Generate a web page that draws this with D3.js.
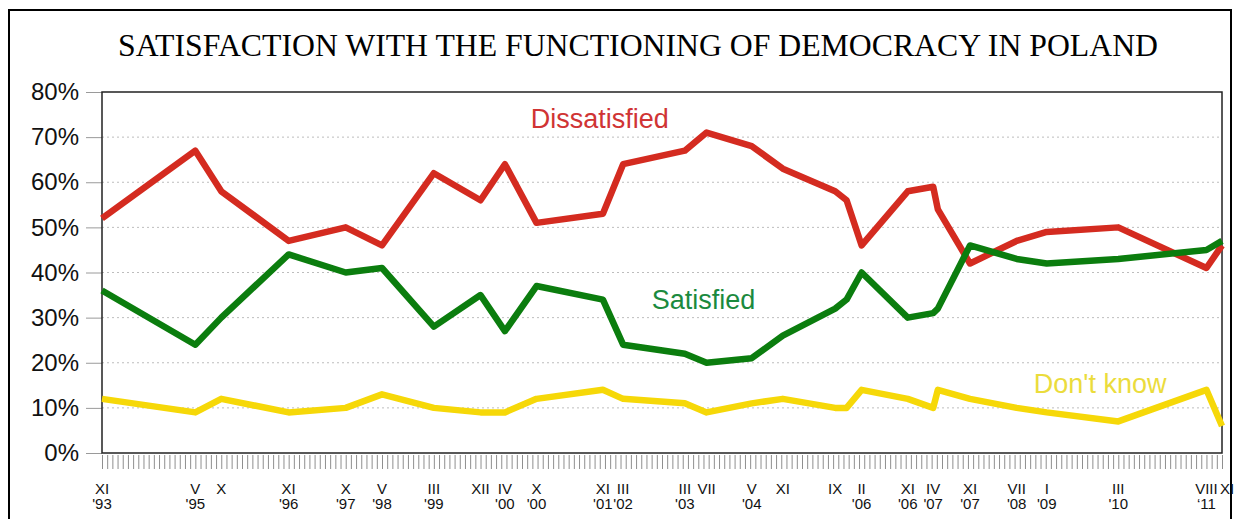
<!DOCTYPE html>
<html>
<head>
<meta charset="utf-8">
<script src="https://cdn.jsdelivr.net/npm/d3@7"></script>
<style>
  body { margin: 0; background: #fff; }
  svg { display: block; }
</style>
</head>
<body>
<svg id="chart" width="1234" height="519"></svg>
<script>
// survey dates, as months since XI 1993
var months = [0, 18, 23, 36, 47, 54, 64, 73, 77.7, 83.8, 96.6, 100.5, 112.4, 116.6, 125.3, 131.3, 141.4, 143.6, 146.5, 155.4, 160.3, 161.2, 167.4, 176.4, 182.2, 196, 213, 216];
var monthLabels = ["XI", "V", "X", "XI", "X", "V", "III", "XII", "IV", "X", "XI", "III", "III", "VII", "V", "XI", "IX", "", "II", "XI", "IV", "", "XI", "VII", "I", "III", "VIII", "XI"];
var yearLabels = ["'93", "'95", "", "'96", "'97", "'98", "'99", "", "'00", "'00", "'01", "'02", "'03", "", "'04", "", "", "", "'06", "'06", "'07", "", "'07", "'08", "'09", "'10", "\u201811", ""];

var dissatisfied = [52, 67, 58, 47, 50, 46, 62, 56, 64, 51, 53, 64, 67, 71, 68, 63, 58, 56, 46, 58, 59, 54, 42, 47, 49, 50, 41, 46];
var satisfied = [36, 24, 30, 44, 40, 41, 28, 35, 27, 37, 34, 24, 22, 20, 21, 26, 32, 34, 40, 30, 31, 32, 46, 43, 42, 43, 45, 47];
var dontKnow = [12, 9, 12, 9, 10, 13, 10, 9, 9, 12, 14, 12, 11, 9, 11, 12, 10, 10, 14, 12, 10, 14, 12, 10, 9, 7, 14, 6];

var yTicks = [0, 10, 20, 30, 40, 50, 60, 70, 80];

// lx/ly: where each series name sits, in chart units
var series = [
  { name: "Dissatisfied", values: dissatisfied, line: "#d42b20", text: "#d03434", lx: 96, ly: 72 },
  { name: "Satisfied", values: satisfied, line: "#0b7d0e", text: "#1b8a3e", lx: 116, ly: 32 },
  { name: "Don't know", values: dontKnow, line: "#f6d808", text: "#ebdc3c", lx: 192.5, ly: 13.3 }
];

var margin = { left: 102, right: 12, top: 92, bottom: 66 };
var W = 1234, H = 519;

var svg = d3.select("#chart");

var x = d3.scaleLinear().domain([0, 216]).range([margin.left, W - margin.right]);
var y = d3.scaleLinear().domain([0, 80]).range([H - margin.bottom, margin.top]);

// outer frame
svg.append("rect")
  .attr("x", 9).attr("y", 10)
  .attr("width", 1222).attr("height", 520)
  .attr("fill", "none").attr("stroke", "#000").attr("stroke-width", 2);

svg.append("text")
  .attr("x", 638).attr("y", 56)
  .attr("text-anchor", "middle")
  .attr("font-family", "'Liberation Serif', 'Times New Roman', serif")
  .attr("font-size", 32)
  .attr("textLength", 1040)
  .attr("lengthAdjust", "spacingAndGlyphs")
  .text("SATISFACTION WITH THE FUNCTIONING OF DEMOCRACY IN POLAND");

// grid
svg.append("g").selectAll("line")
  .data(yTicks.filter(function(d) { return d > 0 && d < 80; }))
  .enter().append("line")
  .attr("x1", x(0)).attr("x2", x(216))
  .attr("y1", function(d) { return y(d); })
  .attr("y2", function(d) { return y(d); })
  .attr("stroke", "#bdbdbd").attr("stroke-width", 1)
  .attr("stroke-dasharray", "2,3");

// y axis
var yAxis = d3.axisLeft(y).tickValues(yTicks).tickSize(16).tickPadding(7)
  .tickFormat(function(d) { return d + "%"; });
var gy = svg.append("g").attr("transform", "translate(" + x(0) + ",0)").call(yAxis);
gy.select(".domain").remove();
gy.selectAll("line").attr("stroke", "#9a9a9a");
gy.selectAll("text")
  .attr("font-family", "'Liberation Sans', Arial, sans-serif")
  .attr("font-size", 24).attr("fill", "#111");

// monthly ticks
var xAxis = d3.axisBottom(x).tickValues(d3.range(0, 217)).tickSize(14).tickFormat("");
var gx = svg.append("g").attr("transform", "translate(0," + (y(0) + 2) + ")").call(xAxis);
gx.select(".domain").remove();
gx.selectAll("line").attr("stroke", "#8f8f8f").attr("stroke-width", 1);

// survey labels
var labels = svg.append("g")
  .attr("font-family", "'Liberation Sans', Arial, sans-serif")
  .attr("font-size", 15).attr("fill", "#111");
months.forEach(function(m, i) {
  var last = i === months.length - 1;
  var lx = last ? x(m) - 2 : x(m);
  var t = labels.append("text").attr("text-anchor", last ? "start" : "middle");
  t.append("tspan").attr("x", lx).attr("y", 494).text(monthLabels[i]);
  if (yearLabels[i]) t.append("tspan").attr("x", x(m)).attr("y", 509).text(yearLabels[i]);
});

// plot box
svg.append("rect")
  .attr("x", x(0)).attr("y", y(80))
  .attr("width", x(216) - x(0)).attr("height", y(0) - y(80))
  .attr("fill", "none").attr("stroke", "#222").attr("stroke-width", 1.5);

var line = d3.line()
  .x(function(d) { return x(d[0]); })
  .y(function(d) { return y(d[1]); });

series.forEach(function(s) {
  svg.append("path")
    .datum(months.map(function(m, i) { return [m, s.values[i]]; }))
    .attr("d", line)
    .attr("fill", "none")
    .attr("stroke", s.line)
    .attr("stroke-width", 6.5)
    .attr("stroke-linejoin", "round");
});

series.forEach(function(s) {
  svg.append("text")
    .attr("x", x(s.lx)).attr("y", y(s.ly))
    .attr("text-anchor", "middle")
    .attr("font-family", "'Liberation Sans', Arial, sans-serif")
    .attr("font-size", 27)
    .attr("fill", s.text)
    .text(s.name);
});
</script>
</body>
</html>
